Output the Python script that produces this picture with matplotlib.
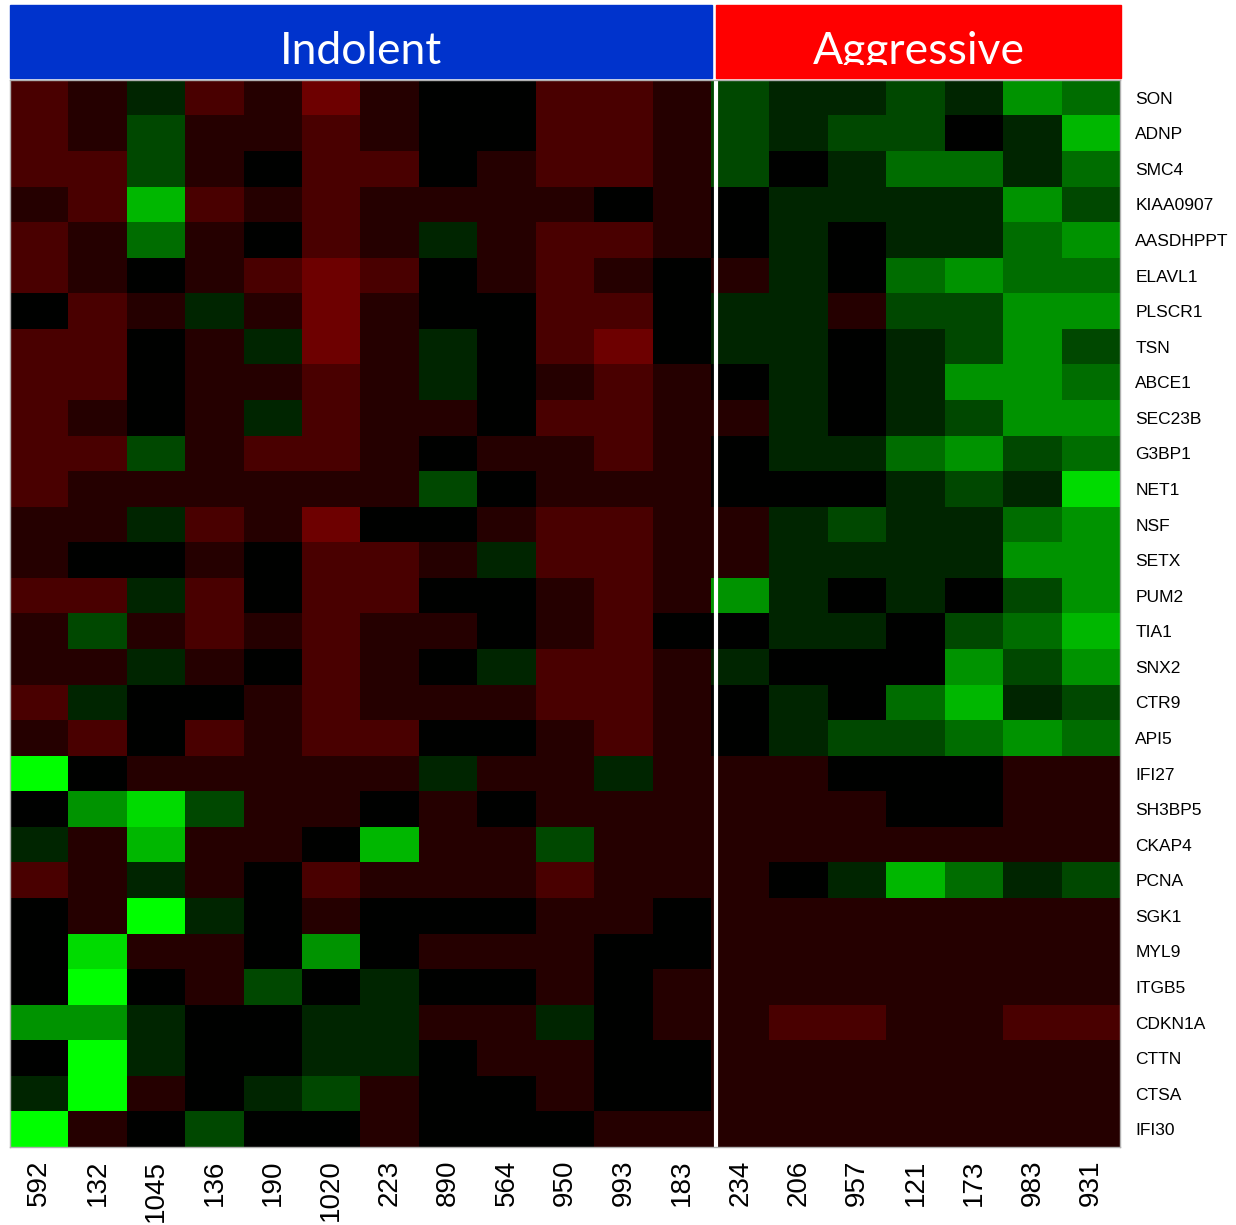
import numpy as np
import matplotlib
matplotlib.use("Agg")
import matplotlib.pyplot as plt
from matplotlib.colors import LinearSegmentedColormap
from matplotlib.patches import Rectangle
from matplotlib.transforms import Bbox, TransformedBbox

# expression levels (negative = red, positive = green)
genes = ["SON", "ADNP", "SMC4", "KIAA0907", "AASDHPPT", "ELAVL1", "PLSCR1", "TSN",
         "ABCE1", "SEC23B", "G3BP1", "NET1", "NSF", "SETX", "PUM2", "TIA1", "SNX2",
         "CTR9", "API5", "IFI27", "SH3BP5", "CKAP4", "PCNA", "SGK1", "MYL9", "ITGB5",
         "CDKN1A", "CTTN", "CTSA", "IFI30"]
indolent_ids = ["592", "132", "1045", "136", "190", "1020", "223", "890", "564", "950", "993", "183"]
aggressive_ids = ["234", "206", "957", "121", "173", "983", "931"]

indolent = [
    [-2, -1, 1, -2, -1, -3, -1, 0, 0, -2, -2, -1],
    [-2, -1, 2, -1, -1, -2, -1, 0, 0, -2, -2, -1],
    [-2, -2, 2, -1, 0, -2, -2, 0, -1, -2, -2, -1],
    [-1, -2, 5, -2, -1, -2, -1, -1, -1, -1, 0, -1],
    [-2, -1, 3, -1, 0, -2, -1, 1, -1, -2, -2, -1],
    [-2, -1, 0, -1, -2, -3, -2, 0, -1, -2, -1, 0],
    [0, -2, -1, 1, -1, -3, -1, 0, 0, -2, -2, 0],
    [-2, -2, 0, -1, 1, -3, -1, 1, 0, -2, -3, 0],
    [-2, -2, 0, -1, -1, -2, -1, 1, 0, -1, -2, -1],
    [-2, -1, 0, -1, 1, -2, -1, -1, 0, -2, -2, -1],
    [-2, -2, 2, -1, -2, -2, -1, 0, -1, -1, -2, -1],
    [-2, -1, -1, -1, -1, -1, -1, 2, 0, -1, -1, -1],
    [-1, -1, 1, -2, -1, -3, 0, 0, -1, -2, -2, -1],
    [-1, 0, 0, -1, 0, -2, -2, -1, 1, -2, -2, -1],
    [-2, -2, 1, -2, 0, -2, -2, 0, 0, -1, -2, -1],
    [-1, 2, -1, -2, -1, -2, -1, -1, 0, -1, -2, 0],
    [-1, -1, 1, -1, 0, -2, -1, 0, 1, -2, -2, -1],
    [-2, 1, 0, 0, -1, -2, -1, -1, -1, -2, -2, -1],
    [-1, -2, 0, -2, -1, -2, -2, 0, 0, -1, -2, -1],
    [7, 0, -1, -1, -1, -1, -1, 1, -1, -1, 1, -1],
    [0, 4, 6, 2, -1, -1, 0, -1, 0, -1, -1, -1],
    [1, -1, 5, -1, -1, 0, 5, -1, -1, 2, -1, -1],
    [-2, -1, 1, -1, 0, -2, -1, -1, -1, -2, -1, -1],
    [0, -1, 7, 1, 0, -1, 0, 0, 0, -1, -1, 0],
    [0, 6, -1, -1, 0, 4, 0, -1, -1, -1, 0, 0],
    [0, 7, 0, -1, 2, 0, 1, 0, 0, -1, 0, -1],
    [4, 4, 1, 0, 0, 1, 1, -1, -1, 1, 0, -1],
    [0, 7, 1, 0, 0, 1, 1, 0, -1, -1, 0, 0],
    [1, 7, -1, 0, 1, 2, -1, 0, 0, -1, 0, 0],
    [7, -1, 0, 2, 0, 0, -1, 0, 0, 0, -1, -1],
]
aggressive = [
    [2, 1, 1, 2, 1, 4, 3],
    [2, 1, 2, 2, 0, 1, 5],
    [2, 0, 1, 3, 3, 1, 3],
    [0, 1, 1, 1, 1, 4, 2],
    [0, 1, 0, 1, 1, 3, 4],
    [-1, 1, 0, 3, 4, 3, 3],
    [1, 1, -1, 2, 2, 4, 4],
    [1, 1, 0, 1, 2, 4, 2],
    [0, 1, 0, 1, 4, 4, 3],
    [-1, 1, 0, 1, 2, 4, 4],
    [0, 1, 1, 3, 4, 2, 3],
    [0, 0, 0, 1, 2, 1, 6],
    [-1, 1, 2, 1, 1, 3, 4],
    [-1, 1, 1, 1, 1, 4, 4],
    [4, 1, 0, 1, 0, 2, 4],
    [0, 1, 1, 0, 2, 3, 5],
    [1, 0, 0, 0, 4, 2, 4],
    [0, 1, 0, 3, 5, 1, 2],
    [0, 1, 2, 2, 3, 4, 3],
    [-1, -1, 0, 0, 0, -1, -1],
    [-1, -1, -1, 0, 0, -1, -1],
    [-1, -1, -1, -1, -1, -1, -1],
    [-1, 0, 1, 5, 3, 1, 2],
    [-1, -1, -1, -1, -1, -1, -1],
    [-1, -1, -1, -1, -1, -1, -1],
    [-1, -1, -1, -1, -1, -1, -1],
    [-1, -2, -2, -1, -1, -2, -2],
    [-1, -1, -1, -1, -1, -1, -1],
    [-1, -1, -1, -1, -1, -1, -1],
    [-1, -1, -1, -1, -1, -1, -1],
]
groups = ["Indolent", "Aggressive"]
group_colors = ["#0033cc", "#ff0000"]

data = np.hstack([np.array(indolent), np.array(aggressive)])
samples = indolent_ids + aggressive_ids
n_ind, n_all = len(indolent_ids), len(samples)

W, H = 1236, 1225
def frac(x0, y0, x1, y1):
    return [x0 / W, 1 - y1 / H, (x1 - x0) / W, (y1 - y0) / H]

cmap = LinearSegmentedColormap.from_list("rg", ["#ff0000", "#000000", "#00ff00"])
fig = plt.figure(figsize=(W / 100, H / 100), dpi=100)

# heatmap
ax = fig.add_axes(frac(10, 80, 1120, 1147))
ax.imshow(data, cmap=cmap, vmin=-7, vmax=7, aspect="auto", interpolation="nearest")
ax.axvline(n_ind - 0.5 + 0.085, color="white", lw=3)
ax.set_yticks(range(len(genes)))
ax.set_yticklabels(genes, fontsize=12.5, family="Liberation Sans")
ax.yaxis.tick_right()
ax.set_xticks(range(n_all))
ax.set_xticklabels(samples, rotation=90, fontsize=20, family="Liberation Sans")
ax.tick_params(axis="y", length=0, pad=11)
ax.tick_params(axis="x", length=0, pad=9)
for s in ax.spines.values():
    s.set_color("#b0b0b0"); s.set_linewidth(1)

# group header bars
axh = fig.add_axes(frac(10, 5, 1120, 78))
axh.set_xlim(-0.5, n_all - 0.5); axh.set_ylim(0, 1); axh.axis("off")
spans = [(-0.5, n_ind - 0.5 + 0.02), (n_ind - 0.5 + 0.09, n_all - 0.5 + 0.02)]
base = (78 - 64) / 73
for (a, b), name, col in zip(spans, groups, group_colors):
    axh.add_patch(Rectangle((a, 0), b - a, 1, color=col, clip_on=False))
    t = axh.text((a + b) / 2, base, name, color="white", fontsize=32, family="Lato",
                 ha="center", va="baseline")
    t.set_clip_box(TransformedBbox(Bbox([[a, base - 0.02], [b, 1]]), axh.transData))
    t.set_clip_on(True)

fig.savefig("out.png", dpi=100)
